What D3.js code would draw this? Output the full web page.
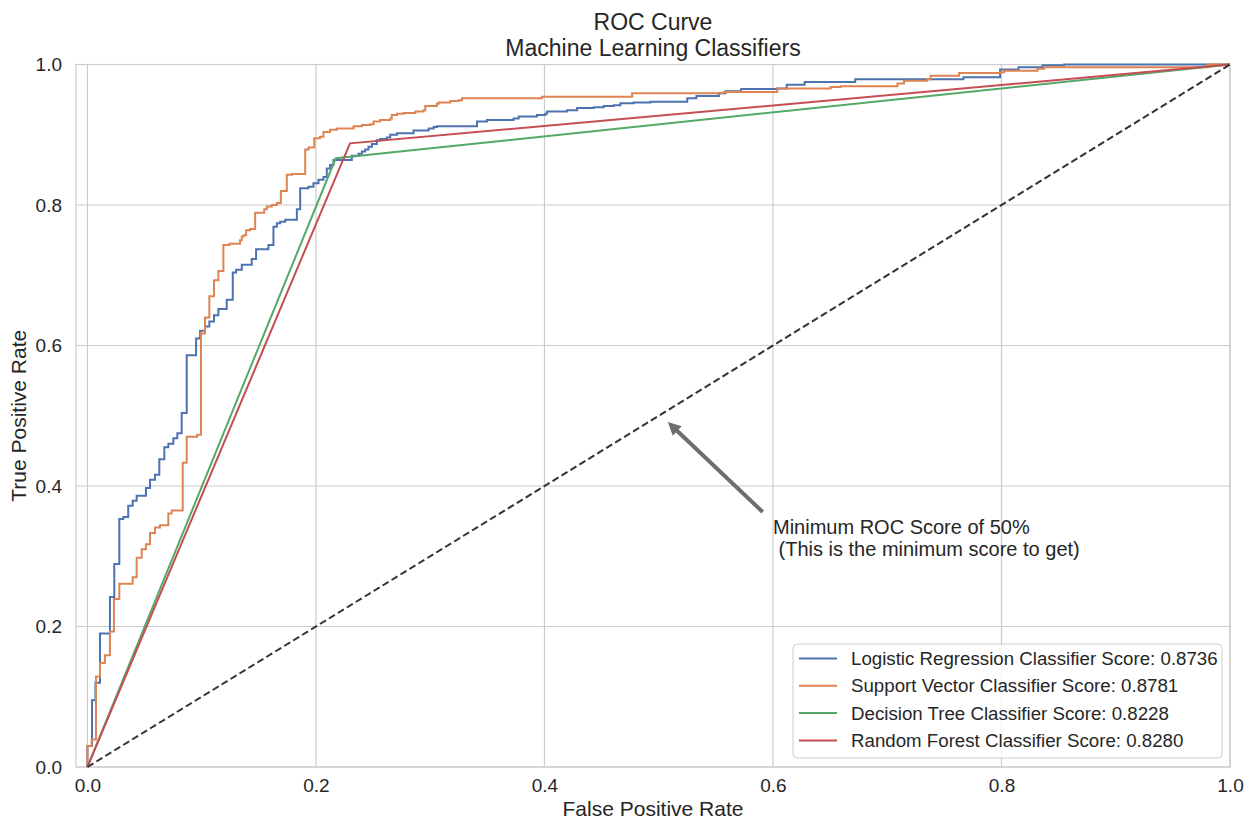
<!DOCTYPE html>
<html>
<head>
<meta charset="utf-8">
<script src="https://cdn.jsdelivr.net/npm/d3@7"></script>
<style>
  body { margin: 0; background: #ffffff; }
  text { font-family: "Liberation Sans", Arial, sans-serif; fill: #262626; }
</style>
</head>
<body>
<div id="visualisation"></div>
<script>
// ROC curve values (fpr, tpr); tpr climbs to tpr[i] at fpr[i]
var lrFpr = [0, 0, 0.004, 0.007, 0.011, 0.0197, 0.0235, 0.0279, 0.0314, 0.0357,
    0.0396, 0.0431, 0.0512, 0.0548, 0.0591, 0.0629, 0.0673, 0.0708, 0.0752, 0.0787,
    0.0825, 0.0869, 0.0951, 0.0986, 0.1029, 0.1067, 0.1108, 0.1146, 0.1219, 0.1272,
    0.1301, 0.1351, 0.1438, 0.1476, 0.1584, 0.1628, 0.1658, 0.1687, 0.1731, 0.1833,
    0.1862, 0.1934, 0.1978, 0.2022, 0.2066, 0.2095, 0.2124, 0.2153, 0.2314, 0.2372,
    0.2402, 0.2431, 0.246, 0.249, 0.2533, 0.2562, 0.2621, 0.265, 0.2709, 0.2854,
    0.2986, 0.303, 0.306, 0.341, 0.3497, 0.373, 0.3774, 0.3935, 0.4008, 0.4023,
    0.4198, 0.4286, 0.4431, 0.4519, 0.4606, 0.4665, 0.4781, 0.4928, 0.525, 0.533,
    0.5526, 0.5585, 0.5722, 0.6038, 0.612, 0.6277, 0.672, 0.7667, 0.7988, 0.8149,
    0.8359, 0.8549, 1.0];
var lrTpr = [0, 0.03, 0.095, 0.12, 0.19, 0.242, 0.289, 0.353, 0.356, 0.372,
    0.379, 0.386, 0.397, 0.409, 0.416, 0.438, 0.455, 0.46, 0.468, 0.475,
    0.504, 0.586, 0.61, 0.621, 0.627, 0.634, 0.643, 0.652, 0.665, 0.704,
    0.708, 0.715, 0.723, 0.737, 0.743, 0.769, 0.774, 0.776, 0.779, 0.794,
    0.824, 0.826, 0.831, 0.836, 0.840, 0.852, 0.857, 0.864, 0.870, 0.873,
    0.876, 0.879, 0.883, 0.887, 0.892, 0.894, 0.896, 0.900, 0.902, 0.906,
    0.909, 0.911, 0.912, 0.919, 0.921, 0.923, 0.926, 0.928, 0.930, 0.933,
    0.935, 0.938, 0.939, 0.941, 0.942, 0.945, 0.946, 0.947, 0.952, 0.955,
    0.959, 0.962, 0.965, 0.966, 0.971, 0.975, 0.979, 0.982, 0.993, 0.996,
    0.999, 1.0, 1.0];

var svcFpr = [0, 0, 0.0037, 0.0075, 0.011, 0.0153, 0.0197, 0.0232, 0.0279, 0.0396,
    0.0431, 0.0475, 0.0512, 0.0548, 0.0591, 0.0635, 0.0708, 0.0737, 0.0834, 0.0869,
    0.096, 0.0994, 0.1029, 0.1067, 0.1108, 0.1146, 0.119, 0.1243, 0.1336, 0.1351,
    0.1366, 0.1389, 0.1424, 0.1468, 0.1547, 0.157, 0.1614, 0.1658, 0.1693, 0.1745,
    0.1789, 0.1906, 0.1935, 0.1985, 0.2035, 0.2066, 0.2124, 0.2183, 0.2329, 0.2402,
    0.2475, 0.2504, 0.2562, 0.265, 0.2664, 0.2709, 0.2767, 0.287, 0.2942, 0.2957,
    0.3059, 0.3073, 0.3176, 0.3248, 0.3278, 0.3979, 0.4767, 0.557, 0.6038, 0.6505,
    0.6592, 0.7089, 0.7147, 0.735, 0.738, 0.7629, 0.7994, 0.8023, 0.8315, 0.8374,
    0.98, 1.0];
var svcTpr = [0, 0.03, 0.039, 0.129, 0.148, 0.159, 0.193, 0.239, 0.261, 0.270,
    0.298, 0.310, 0.317, 0.333, 0.341, 0.344, 0.361, 0.365, 0.433, 0.470,
    0.473, 0.617, 0.640, 0.670, 0.693, 0.706, 0.743, 0.745, 0.750, 0.755,
    0.757, 0.764, 0.766, 0.789, 0.794, 0.798, 0.800, 0.803, 0.820, 0.843,
    0.844, 0.879, 0.882, 0.895, 0.897, 0.904, 0.907, 0.909, 0.912, 0.914,
    0.915, 0.919, 0.921, 0.923, 0.928, 0.930, 0.931, 0.933, 0.935, 0.941,
    0.944, 0.946, 0.948, 0.949, 0.952, 0.954, 0.959, 0.961, 0.966, 0.968,
    0.969, 0.973, 0.977, 0.979, 0.984, 0.988, 0.989, 0.991, 0.994, 0.996,
    1.0, 1.0];

var dtFpr = [0, 0.2173, 1];
var dtTpr = [0, 0.8665, 1];
var rfFpr = [0, 0.2298, 1];
var rfTpr = [0, 0.8878, 1];

var names = ["Logistic Regression Classifier", "Support Vector Classifier",
    "Decision Tree Classifier", "Random Forest Classifier"];
var scores = ["0.8736", "0.8781", "0.8228", "0.8280"];
var colors = ["#4C72B0", "#DD8452", "#55A868", "#C44E52"];

var ticks = [0, 0.2, 0.4, 0.6, 0.8, 1.0];

// annotation: text anchor, arrow tail and arrow tip (data units)
var noteAt = [0.6, 0.3];
var arrowFrom = [0.591, 0.363];
var arrowTo = [0.508, 0.491];
var noteLines = ["Minimum ROC Score of 50%", "\u00a0(This is the minimum score to get)"];

// set the dimensions and margins of the graph
var margin = {top: 64.5, right: 20, bottom: 55, left: 76},
    width = 1250 - margin.left - margin.right,
    height = 822 - margin.top - margin.bottom;

var root = d3.select("#visualisation")
    .append("svg")
    .attr("width", 1250)
    .attr("height", 822);

var svg = root.append("g")
    .attr("transform", "translate(" + margin.left + "," + margin.top + ")");

var xScale = d3.scaleLinear().domain([-0.01, 1.0]).range([0, width]);
var yScale = d3.scaleLinear().domain([0, 1]).range([height, 0]);

// grid
svg.append("g").selectAll("line").data(ticks).enter().append("line")
    .attr("x1", d => xScale(d)).attr("x2", d => xScale(d))
    .attr("y1", 0).attr("y2", height)
    .attr("stroke", "#cccccc").attr("stroke-width", 1.2);
svg.append("g").selectAll("line").data(ticks).enter().append("line")
    .attr("y1", d => yScale(d)).attr("y2", d => yScale(d))
    .attr("x1", 0).attr("x2", width)
    .attr("stroke", "#cccccc").attr("stroke-width", 1.2);

// frame
svg.append("rect")
    .attr("width", width).attr("height", height)
    .attr("fill", "none").attr("stroke", "#cccccc").attr("stroke-width", 1.2);

// axes
var xAxis = d3.axisBottom(xScale).tickValues(ticks).tickFormat(d3.format(".1f")).tickSize(0).tickPadding(12);
var yAxis = d3.axisLeft(yScale).tickValues(ticks).tickFormat(d3.format(".1f")).tickSize(0).tickPadding(14);

var gx = svg.append("g").attr("transform", "translate(0," + height + ")").call(xAxis);
var gy = svg.append("g").call(yAxis);
[gx, gy].forEach(g => {
    g.select(".domain").remove();
    g.selectAll("text").attr("font-size", "19px").attr("fill", "#262626")
        .attr("font-family", "'Liberation Sans', Arial, sans-serif");
});

// curves
var series = [
    {fpr: lrFpr, tpr: lrTpr, curve: d3.curveStepAfter},
    {fpr: svcFpr, tpr: svcTpr, curve: d3.curveStepAfter},
    {fpr: dtFpr, tpr: dtTpr, curve: d3.curveLinear},
    {fpr: rfFpr, tpr: rfTpr, curve: d3.curveLinear}
];

series.forEach((s, i) => {
    var pts = s.fpr.map((f, k) => [f, s.tpr[k]]);
    var line = d3.line().x(d => xScale(d[0])).y(d => yScale(d[1])).curve(s.curve);
    svg.append("path")
        .datum(pts)
        .attr("d", line)
        .attr("fill", "none")
        .attr("stroke", colors[i])
        .attr("stroke-width", 2)
        .attr("stroke-linejoin", "miter");
});

// chance line
svg.append("path")
    .datum([[0, 0], [1, 1]])
    .attr("d", d3.line().x(d => xScale(d[0])).y(d => yScale(d[1])))
    .attr("stroke", "#333333")
    .attr("stroke-width", 2)
    .attr("stroke-dasharray", "7,3.5");

// annotation arrow
var ax0 = xScale(arrowFrom[0]), ay0 = yScale(arrowFrom[1]);
var ax1 = xScale(arrowTo[0]), ay1 = yScale(arrowTo[1]);
var len = Math.hypot(ax1 - ax0, ay1 - ay0);
var ux = (ax1 - ax0) / len, uy = (ay1 - ay0) / len;
var nx = -uy, ny = ux;
var hl = 13, hw = 6.5, sw = 2;
var bx = ax1 - ux * hl, by = ay1 - uy * hl;
var arrowPts = [
    [ax0 + nx * sw, ay0 + ny * sw],
    [bx + nx * sw, by + ny * sw],
    [bx + nx * hw, by + ny * hw],
    [ax1, ay1],
    [bx - nx * hw, by - ny * hw],
    [bx - nx * sw, by - ny * sw],
    [ax0 - nx * sw, ay0 - ny * sw]
];
svg.append("polygon")
    .attr("points", arrowPts.map(p => p.join(",")).join(" "))
    .attr("fill", "#6c706b");

var note = svg.append("text")
    .attr("x", xScale(noteAt[0]))
    .attr("y", yScale(noteAt[1]))
    .attr("font-size", "20px");
noteLines.forEach((t, i) => {
    note.append("tspan")
        .attr("x", xScale(noteAt[0]))
        .attr("dy", i === 0 ? -22 : 22)
        .text(t);
});

// legend
var legend = svg.append("g").attr("transform", "translate(" + (793 - margin.left) + "," + (644 - margin.top) + ")");
legend.append("rect")
    .attr("width", 429).attr("height", 114).attr("rx", 4)
    .attr("fill", "#ffffff").attr("fill-opacity", 0.8)
    .attr("stroke", "#cccccc").attr("stroke-width", 1);
names.forEach((n, i) => {
    var yy = 14.5 + i * 27.3;
    legend.append("line")
        .attr("x1", 6).attr("x2", 44).attr("y1", yy).attr("y2", yy)
        .attr("stroke", colors[i]).attr("stroke-width", 2);
    legend.append("text")
        .attr("x", 58).attr("y", yy).attr("dy", "0.35em")
        .attr("font-size", "18.7px")
        .text(n + " Score: " + scores[i]);
});

// titles
root.append("text").attr("x", 653).attr("y", 30).attr("text-anchor", "middle")
    .attr("font-size", "23px").text("ROC Curve");
root.append("text").attr("x", 653).attr("y", 56).attr("text-anchor", "middle")
    .attr("font-size", "23px").text("Machine Learning Classifiers");
root.append("text").attr("x", margin.left + width / 2).attr("y", 816).attr("text-anchor", "middle")
    .attr("font-size", "21px").text("False Positive Rate");
root.append("text")
    .attr("transform", "translate(26," + (margin.top + height / 2) + ") rotate(-90)")
    .attr("text-anchor", "middle")
    .attr("font-size", "21px").text("True Positive Rate");
</script>
</body>
</html>
